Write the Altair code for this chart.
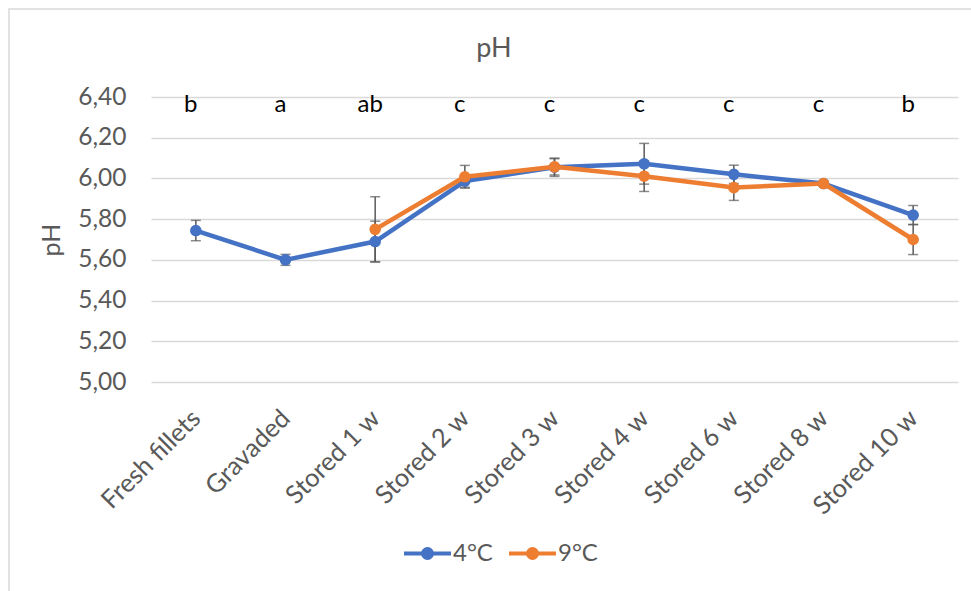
import altair as alt
import pandas as pd

categories = ["Fresh fillets", "Gravaded", "Stored 1 w", "Stored 2 w", "Stored 3 w",
              "Stored 4 w", "Stored 6 w", "Stored 8 w", "Stored 10 w"]
series_names = ["4°C", "9°C"]
ph_4 = [5.744, 5.60, 5.69, 5.987, 6.055, 6.072, 6.02, 5.975, 5.82]
err_4 = [0.05, 0.027, 0.10, 0.03, 0.045, 0.10, 0.045, 0.01, 0.047]
ph_9 = [None, None, 5.75, 6.008, 6.057, 6.011, 5.955, 5.975, 5.70]
err_9 = [None, None, 0.16, 0.056, 0.04, 0.075, 0.063, 0.01, 0.074]
letters = ["b", "a", "ab", "c", "c", "c", "c", "c", "b"]
y_ticks = [5.0, 5.2, 5.4, 5.6, 5.8, 6.0, 6.2, 6.4]
colors = ["#4472C4", "#ED7D31"]
chart_title = "pH"
LETTER_LEVEL = 6.325

rows = []
for s, vals, errs in [(series_names[0], ph_4, err_4), (series_names[1], ph_9, err_9)]:
    for c, v, e in zip(categories, vals, errs):
        if v is None:
            continue
        rows.append({"cat": c, "series": s, "ph": v, "lo": v - e, "hi": v + e})
df = pd.DataFrame(rows)
df_letters = pd.DataFrame({"cat": categories, "letter": letters})

FONT = "Lato"
GRAY = "#595959"

xenc = alt.X("cat:N", sort=categories,
             scale=alt.Scale(type="point", padding=0.5, domain=categories),
             axis=alt.Axis(title=None, labelAngle=-45, labelAlign="right", labelBaseline="middle",
                           labelFontSize=25.5, labelColor=GRAY, labelFont=FONT, labelPadding=32,
                           ticks=False, domain=False, grid=False))
yscale = alt.Scale(domain=[5.0, 6.4], nice=False, zero=False)
yenc = alt.Y("ph:Q", scale=yscale,
             axis=alt.Axis(title="pH", values=y_ticks,
                           labelExpr="replace(format(datum.value, '.2f'), '.', ',')",
                           labelFontSize=24.5, labelColor=GRAY, labelFont=FONT, labelPadding=25,
                           titleFontSize=25, titleColor=GRAY, titleFont=FONT, titleFontWeight="normal",
                           titlePadding=13, ticks=False, domain=False,
                           grid=True, gridColor="#d9d9d9", gridWidth=1.5))

color_scale = alt.Scale(domain=series_names, range=colors)

legend_path = ("M-1,0H1 "
               "M-0.191,0A0.191,0.191,0,1,1,0.191,0A0.191,0.191,0,1,1,-0.191,0 "
               "M-0.106,0A0.106,0.106,0,1,1,0.106,0A0.106,0.106,0,1,1,-0.106,0 "
               "M-0.03,0H0.03")

frame = alt.Chart(pd.DataFrame({"a": [0]})).mark_rect(
    fill=None, stroke="#d9d9d9", strokeWidth=1.5
).encode(x=alt.value(-142), x2=alt.value(840), y=alt.value(-88), y2=alt.value(520))

title = alt.Chart(pd.DataFrame({"t": [chart_title]})).mark_text(
    fontSize=27, font=FONT, color=GRAY, baseline="alphabetic", align="center"
).encode(x=alt.value(343), y=alt.value(-40), text="t:N")

rules = alt.Chart(df).mark_rule(color=GRAY, strokeWidth=1.5).encode(
    x=xenc, y=alt.Y("lo:Q", scale=yscale), y2="hi:Q")
caps_lo = alt.Chart(df).mark_tick(color=GRAY, thickness=1.5, size=10, orient="horizontal").encode(
    x=xenc, y=alt.Y("lo:Q", scale=yscale))
caps_hi = alt.Chart(df).mark_tick(color=GRAY, thickness=1.5, size=10, orient="horizontal").encode(
    x=xenc, y=alt.Y("hi:Q", scale=yscale))

layers = [frame, title, rules, caps_lo, caps_hi]
for s in series_names:
    base = alt.Chart(df).transform_filter(alt.datum.series == s)
    line = base.mark_line(strokeWidth=4.5, strokeCap="round", strokeJoin="round").encode(
        x=xenc, y=yenc,
        color=alt.Color("series:N", scale=color_scale,
                        legend=alt.Legend(title=None, orient="none", legendX=251, legendY=431,
                                          direction="horizontal", symbolType=legend_path,
                                          symbolSize=2209, symbolStrokeWidth=4,
                                          labelFontSize=24, labelColor=GRAY, labelFont=FONT,
                                          labelOffset=0, columnPadding=8)))
    pts = base.mark_point(filled=True, size=135, opacity=1).encode(
        x=xenc, y=alt.Y("ph:Q", scale=yscale),
        fill=alt.Fill("series:N", scale=color_scale, legend=None))
    layers += [line, pts]

text = alt.Chart(df_letters).mark_text(fontSize=24, font=FONT, color="black",
                                       baseline="alphabetic", dx=-5).encode(
    x=xenc, y=alt.datum(LETTER_LEVEL), text="letter:N")
layers.append(text)

chart = alt.layer(*layers).properties(
    width=807, height=285,
    padding={"left": 151, "top": 97, "right": 13, "bottom": 209},
    autosize=alt.AutoSizeParams(type="none"),
).configure_view(stroke=None)

chart.save("out.html", embed_options={"renderer": "svg", "actions": False})
